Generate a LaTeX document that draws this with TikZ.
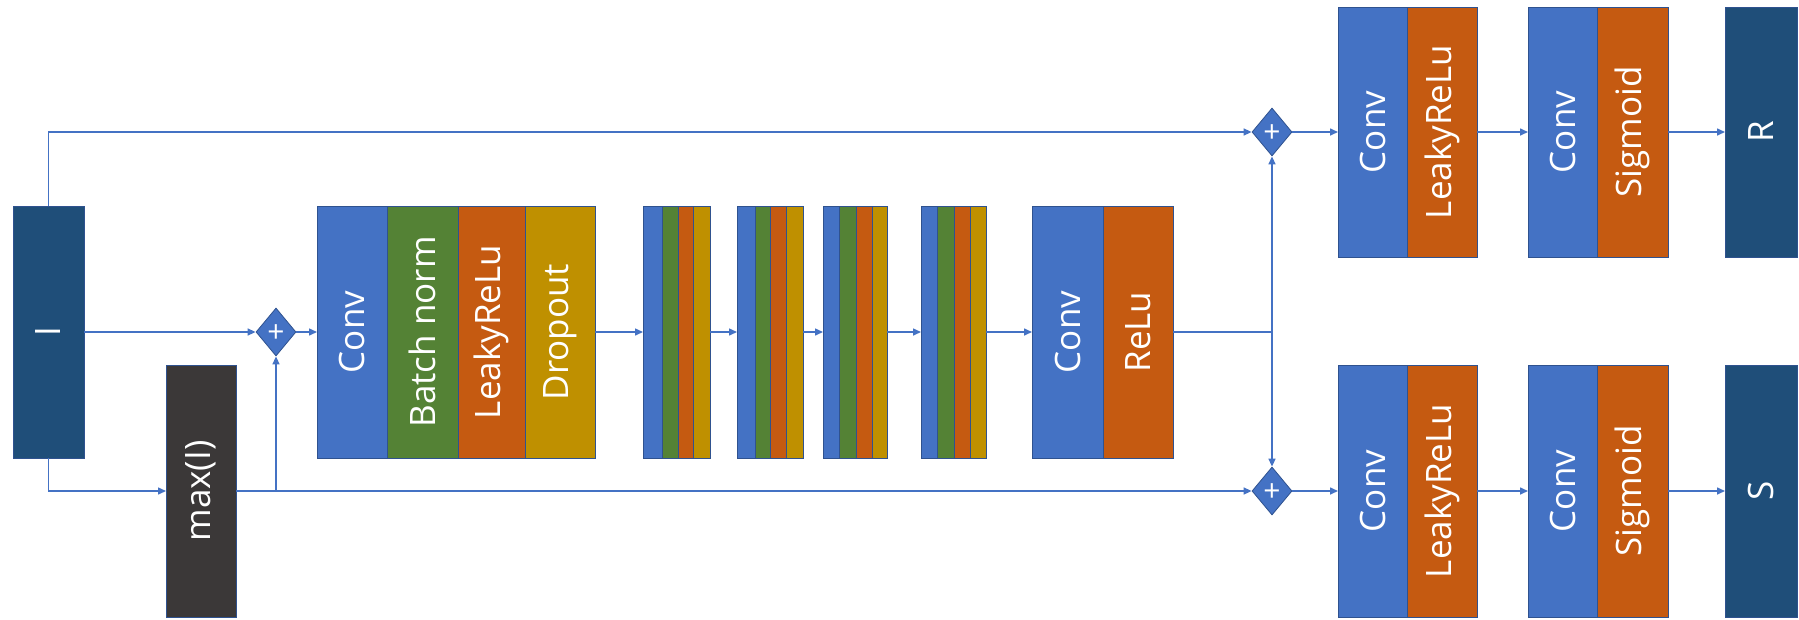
\documentclass[tikz,border=0pt]{standalone}
\usepackage{fontspec}
\setmainfont{Open Sans}
\usetikzlibrary{shapes.geometric,arrows.meta}
\definecolor{cblue}{HTML}{4472C4}
\definecolor{cgreen}{HTML}{548235}
\definecolor{corange}{HTML}{C55A11}
\definecolor{cgold}{HTML}{BF9000}
\definecolor{cnavy}{HTML}{1F4E79}
\definecolor{cgray}{HTML}{3B3838}
\definecolor{cedge}{HTML}{2F528F}
\newcommand\lbl{\fontsize{35}{40}\selectfont}
\newcommand\pluslbl{\smash{\raisebox{-0.36em}{+}}}
\newcommand\segm[7]{\node[seg, fill=#6, minimum width={#3-#2}, minimum height={#5-#4}] (#1) at (#2,#4) {\rotatebox{90}{#7}};}
\begin{document}
\begin{tikzpicture}[x=1pt,y=-1pt,
  seg/.style={draw=cedge, line width=0.8pt, inner sep=0pt, outer sep=0pt, anchor=north west, text=white, font=\lbl},
  plus/.style={diamond, draw=cedge, line width=0.8pt, fill=cblue, minimum width=40pt, minimum height=48pt, inner sep=0pt, text=white, font=\fontsize{30}{30}\selectfont},
  conn/.style={draw=cblue, line width=1.5pt, -{Triangle[length=8pt,width=7pt]}},
  line/.style={draw=cblue, line width=1.5pt}]
\useasboundingbox (0,0) rectangle (1799,619);
% input and max
\segm{I}{13}{84}{206}{458}{cnavy}{I}
\segm{mx}{166}{236}{365}{617}{cgray}{max(I)}
% first block
\segm{c1}{317}{387}{206}{458}{cblue}{Conv}
\segm{bn}{387}{458}{206}{458}{cgreen}{Batch norm}
\segm{lr}{458}{525}{206}{458}{corange}{LeakyReLu}
\segm{dr}{525}{595}{206}{458}{cgold}{Dropout}
% small blocks
\segm{aa}{643}{662}{206}{458}{cblue}{}
\segm{ab}{662}{678}{206}{458}{cgreen}{}
\segm{ac}{678}{693}{206}{458}{corange}{}
\segm{ad}{693}{710}{206}{458}{cgold}{}
\segm{ba}{737}{755}{206}{458}{cblue}{}
\segm{bb}{755}{770}{206}{458}{cgreen}{}
\segm{bc}{770}{786}{206}{458}{corange}{}
\segm{bd}{786}{803}{206}{458}{cgold}{}
\segm{ca}{823}{839}{206}{458}{cblue}{}
\segm{cb}{839}{856}{206}{458}{cgreen}{}
\segm{cc}{856}{872}{206}{458}{corange}{}
\segm{cd}{872}{887}{206}{458}{cgold}{}
\segm{da}{921}{937}{206}{458}{cblue}{}
\segm{db}{937}{954}{206}{458}{cgreen}{}
\segm{dc}{954}{970}{206}{458}{corange}{}
\segm{dd}{970}{986}{206}{458}{cgold}{}
% conv relu
\segm{cr1}{1032}{1103}{206}{458}{cblue}{Conv}
\segm{cr2}{1103}{1173}{206}{458}{corange}{ReLu}
% upper branch
\segm{u1}{1338}{1407}{7}{257}{cblue}{Conv}
\segm{u2}{1407}{1477}{7}{257}{corange}{LeakyReLu}
\segm{u3}{1528}{1597}{7}{257}{cblue}{Conv}
\segm{u4}{1597}{1668}{7}{257}{corange}{Sigmoid}
\segm{R}{1725}{1797}{7}{257}{cnavy}{R}
% lower branch
\segm{l1}{1338}{1407}{365}{617}{cblue}{Conv}
\segm{l2}{1407}{1477}{365}{617}{corange}{LeakyReLu}
\segm{l3}{1528}{1597}{365}{617}{cblue}{Conv}
\segm{l4}{1597}{1668}{365}{617}{corange}{Sigmoid}
\segm{S}{1725}{1797}{365}{617}{cnavy}{S}
% plus nodes
\node[plus] (p1) at (276,332) {\pluslbl};
\node[plus] (p2) at (1272,132) {\pluslbl};
\node[plus] (p3) at (1272,491) {\pluslbl};
\coordinate (j) at (1272,332);
% connectors
\draw[conn] (I.north) |- (p2.west);
\draw[conn] (I.east) -- (p1.west);
\draw[conn] (I.south) |- (mx.west);
\draw[conn] (mx.east) -| (p1.south);
\draw[conn] (mx.east) -- (p3.west);
\draw[conn] (p1.east) -- (c1.west);
\draw[conn] (dr.east) -- (aa.west);
\draw[conn] (ad.east) -- (ba.west);
\draw[conn] (bd.east) -- (ca.west);
\draw[conn] (cd.east) -- (da.west);
\draw[conn] (dd.east) -- (cr1.west);
\draw[line] (cr2.east) -- (j);
\draw[conn] (j) -- (p2.south);
\draw[conn] (j) -- (p3.north);
\draw[conn] (p2.east) -- (u1.west);
\draw[conn] (u2.east) -- (u3.west);
\draw[conn] (u4.east) -- (R.west);
\draw[conn] (p3.east) -- (l1.west);
\draw[conn] (l2.east) -- (l3.west);
\draw[conn] (l4.east) -- (S.west);
\end{tikzpicture}
\end{document}
